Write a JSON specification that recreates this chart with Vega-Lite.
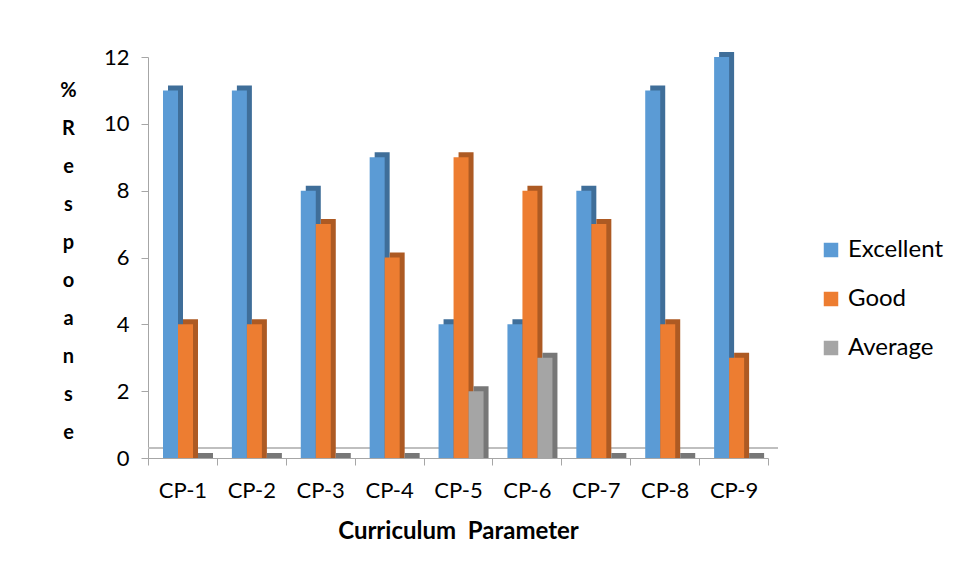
{
  "$schema": "https://vega.github.io/schema/vega-lite/v6.json",
  "autosize": "none",
  "width": 620,
  "height": 401,
  "padding": {"left": 148, "top": 57, "right": 186, "bottom": 120},
  "background": "white",
  "config": {
    "font": "Lato",
    "view": {"stroke": null},
    "axis": {"grid": false, "domainColor": "#A6A6A6", "tickColor": "#A6A6A6", "labelColor": "#000000", "titleColor": "#000000", "labelFont": "Lato", "titleFont": "Lato"}
  },
  "data": {
    "values": [
      {"category": "CP-1", "series": "Excellent", "value": 11},
      {"category": "CP-1", "series": "Good", "value": 4},
      {"category": "CP-1", "series": "Average", "value": 0},
      {"category": "CP-2", "series": "Excellent", "value": 11},
      {"category": "CP-2", "series": "Good", "value": 4},
      {"category": "CP-2", "series": "Average", "value": 0},
      {"category": "CP-3", "series": "Excellent", "value": 8},
      {"category": "CP-3", "series": "Good", "value": 7},
      {"category": "CP-3", "series": "Average", "value": 0},
      {"category": "CP-4", "series": "Excellent", "value": 9},
      {"category": "CP-4", "series": "Good", "value": 6},
      {"category": "CP-4", "series": "Average", "value": 0},
      {"category": "CP-5", "series": "Excellent", "value": 4},
      {"category": "CP-5", "series": "Good", "value": 9},
      {"category": "CP-5", "series": "Average", "value": 2},
      {"category": "CP-6", "series": "Excellent", "value": 4},
      {"category": "CP-6", "series": "Good", "value": 8},
      {"category": "CP-6", "series": "Average", "value": 3},
      {"category": "CP-7", "series": "Excellent", "value": 8},
      {"category": "CP-7", "series": "Good", "value": 7},
      {"category": "CP-7", "series": "Average", "value": 0},
      {"category": "CP-8", "series": "Excellent", "value": 11},
      {"category": "CP-8", "series": "Good", "value": 4},
      {"category": "CP-8", "series": "Average", "value": 0},
      {"category": "CP-9", "series": "Excellent", "value": 12},
      {"category": "CP-9", "series": "Good", "value": 3},
      {"category": "CP-9", "series": "Average", "value": 0}
    ]
  },
  "layer": [
    {
      "mark": {"type": "rule", "color": "#BFBFBF", "strokeWidth": 1.5, "yOffset": -10, "xOffset": 10},
      "encoding": {"y": {"datum": 0, "type": "quantitative"}}
    },
    {
      "mark": {"type": "bar", "yOffset": -5, "y2Offset": 0},
      "encoding": {
        "x": {
          "field": "category", "type": "nominal",
          "scale": {"paddingInner": 0, "paddingOuter": 0},
          "axis": {"labelAngle": 0, "labelFontSize": 22, "labelPadding": 15, "tickSize": 7, "tickBand": "extent",
                   "title": "Curriculum\u00a0 Parameter", "titleFontSize": 24, "titleFontWeight": "bold", "titlePadding": 18}
        },
        "xOffset": {
          "field": "series", "type": "nominal",
          "scale": {"domain": ["Excellent", "Good", "Average"], "range": [20, 65], "paddingInner": 0, "paddingOuter": 0}
        },
        "y": {"field": "value", "type": "quantitative"},
        "y2": {"datum": 0},
        "color": {
          "field": "series", "type": "nominal",
          "scale": {"domain": ["Excellent", "Good", "Average"], "range": ["#3F6E99", "#AD5A23", "#777777"]},
          "legend": null
        }
      }
    },
    {
      "mark": {"type": "bar"},
      "encoding": {
        "x": {
          "field": "category", "type": "nominal",
          "scale": {"paddingInner": 0, "paddingOuter": 0},
          "axis": {"labelAngle": 0, "labelFontSize": 22, "labelPadding": 15, "tickSize": 7, "tickBand": "extent",
                   "title": "Curriculum\u00a0 Parameter", "titleFontSize": 24, "titleFontWeight": "bold", "titlePadding": 18}
        },
        "xOffset": {
          "field": "series", "type": "nominal",
          "scale": {"domain": ["Excellent", "Good", "Average"], "range": [15, 60], "paddingInner": 0, "paddingOuter": 0}
        },
        "y": {
          "field": "value", "type": "quantitative",
          "scale": {"domain": [0, 12]},
          "axis": {"values": [0, 2, 4, 6, 8, 10, 12], "labelFontSize": 22, "labelPadding": 12, "tickSize": 7,
                   "title": ["%", "R", "e", "s", "p", "o", "a", "n", "s", "e"],
                   "titleAngle": 0, "titleFontSize": 20, "titleFontWeight": "bold", "titleLineHeight": 38.1,
                   "titleAlign": "center", "titleBaseline": "middle", "titleX": -80, "titleY": 33}
        },
        "color": {
          "field": "series", "type": "nominal",
          "scale": {"domain": ["Excellent", "Good", "Average"], "range": ["#5B9BD5", "#ED7D31", "#A5A5A5"]},
          "legend": {"title": null, "orient": "none", "legendX": 671, "legendY": 181, "symbolType": "square",
                     "symbolSize": 210, "symbolStrokeWidth": 0, "labelFontSize": 24, "labelOffset": 5, "rowPadding": 25, "labelColor": "#000000"}
        }
      }
    }
  ],
  "resolve": {"scale": {"color": "independent", "xOffset": "independent"}}
}
